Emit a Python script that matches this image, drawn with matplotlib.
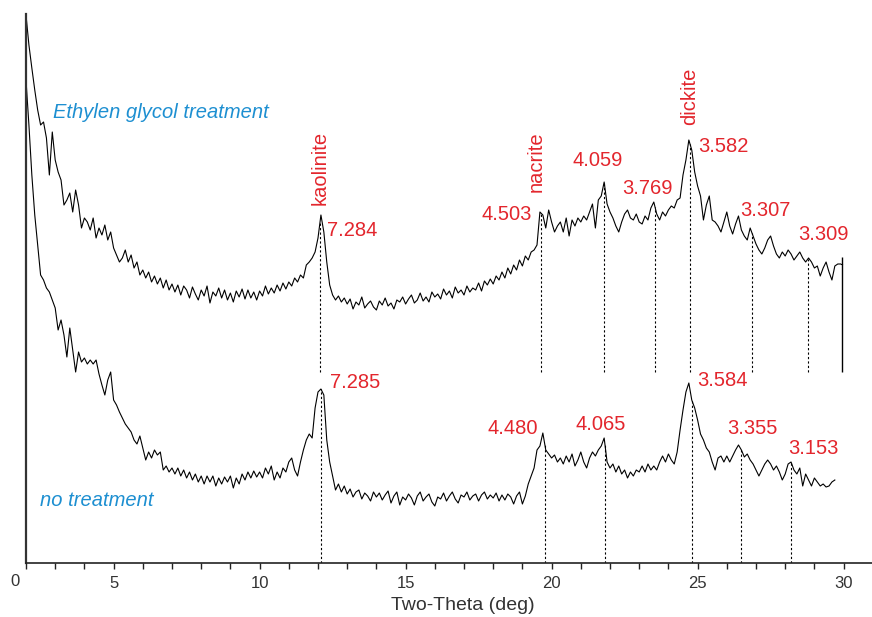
import numpy as np
import matplotlib
matplotlib.use("Agg")
import matplotlib.pyplot as plt

# ---------------- data ----------------
two_theta_eg = np.round(np.arange(2.0, 29.95, 0.1), 1)   # 2.0 .. 29.9
intensity_eg = [
    548, 518, 495, 473, 453, 438, 441, 425, 388, 431,
    403, 391, 383, 358, 363, 370, 351, 373, 358, 335,
    345, 341, 333, 345, 325, 335, 328, 338, 323, 331,
    315, 308, 301, 305, 313, 301, 308, 295, 301, 288,
    293, 285, 291, 281, 287, 279, 285, 275, 283, 273,
    279, 271, 278, 268, 277, 273, 265, 276, 269, 263,
    273, 267, 277, 260, 271, 267, 275, 265, 273, 263,
    270, 261, 272, 266, 274, 264, 273, 265, 271, 263,
    272, 267, 277, 269, 275, 270, 278, 272, 280, 274,
    281, 277, 285, 281, 288, 285, 298, 301, 305, 311,
    325, 348, 331, 301, 278, 268, 263, 267, 261, 265,
    259, 264, 254, 261, 258, 266, 255, 259, 262, 256,
    253, 262, 258, 265, 257, 260, 254, 263, 261, 266,
    259, 264, 268, 260, 263, 270, 262, 266, 261, 271,
    266, 269, 264, 274, 268, 272, 265, 276, 270, 273,
    268, 277, 271, 275, 273, 280, 272, 282, 278, 284,
    279, 287, 283, 291, 285, 295, 289, 298, 293, 303,
    297, 307, 303, 311, 313, 318, 351, 348, 335, 353,
    341, 331, 337, 341, 331, 345, 327, 343, 337, 345,
    341, 347, 343, 351, 359, 335, 363, 367, 381, 359,
    351, 345, 337, 331, 341, 349, 353, 345, 343, 349,
    341, 339, 347, 343, 355, 361, 349, 343, 351, 347,
    353, 357, 355, 363, 365, 388, 403, 423, 413, 391,
    377, 367, 343, 358, 367, 343, 341, 337, 331, 341,
    351, 337, 329, 339, 347, 333, 327, 323, 335, 327,
    319, 313, 309, 315, 323, 327, 317, 309, 305, 311,
    307, 313, 309, 303, 307, 311, 305, 301, 305, 301,
    295, 297, 287, 295, 301, 291, 283, 297, 299, 299,
]

two_theta_nt = np.round(np.arange(2.0, 29.75, 0.1), 1)   # 2.0 .. 29.7
intensity_nt = [
    483, 438, 388, 348, 318, 288, 283, 275, 271, 263,
    255, 233, 243, 228, 206, 235, 213, 191, 211, 201,
    205, 199, 203, 199, 203, 189, 178, 168, 183, 191,
    163, 158, 151, 145, 139, 135, 131, 123, 119, 127,
    115, 103, 111, 105, 113, 108, 111, 93, 97, 91,
    95, 89, 95, 87, 93, 85, 91, 83, 89, 81,
    87, 79, 87, 81, 87, 77, 85, 79, 86, 81,
    87, 75, 85, 79, 89, 83, 91, 85, 92, 86,
    91, 85, 95, 89, 97, 83, 91, 85, 95, 91,
    101, 105, 93, 87, 101, 113, 123, 129, 125, 155,
    171, 174, 168, 123, 101, 87, 73, 79, 71, 77,
    69, 74, 66, 71, 73, 64, 70, 67, 62, 71,
    66, 70, 63, 68, 72, 60, 67, 71, 58, 66,
    63, 69, 65, 58, 67, 71, 62, 66, 69, 61,
    57, 66, 64, 70, 62, 67, 71, 64, 60, 68,
    66, 71, 63, 67, 69, 62, 68, 71, 64, 68,
    65, 70, 62, 68, 63, 69, 66, 59, 67, 71,
    59, 67, 79, 87, 95, 113, 117, 130, 113, 109,
    105, 108, 101, 105, 99, 107, 101, 109, 97, 103,
    111, 101, 95, 105, 111, 107, 113, 117, 125, 101,
    95, 99, 91, 97, 89, 93, 85, 91, 87, 93,
    91, 97, 91, 99, 93, 97, 93, 101, 107, 101,
    109, 103, 99, 111, 133, 153, 171, 180, 163, 155,
    143, 129, 123, 115, 111, 101, 93, 105, 107, 101,
    107, 101, 107, 113, 118, 113, 106, 109, 103, 99,
    93, 87, 93, 99, 103, 99, 93, 97, 91, 83,
    89, 99, 101, 93, 89, 95, 77, 89, 83, 77,
    85, 81, 77, 79, 76, 77, 81, 83,
]

# peak markers (2-theta position) and d-spacing labels
peaks_eg_pos = [12.07, 19.64, 21.8, 23.54, 24.74, 26.86, 28.78]
peaks_eg_d = ["7.284", "4.503", "4.059", "3.769", "3.582", "3.307", "3.309"]
peaks_nt_pos = [12.1, 19.77, 21.83, 24.8, 26.49, 28.2]
peaks_nt_d = ["7.285", "4.480", "4.065", "3.584", "3.355", "3.153"]
minerals = ["kaolinite", "nacrite", "dickite"]
mineral_pos = [12.07, 19.47, 24.74]

# intensity scale bar at the end of the upper pattern
scale_bar_x = 29.93
scale_bar_range = (191, 306)
upper_marker_floor = 191

# ---------------- figure ----------------
W, H, DPI = 872, 617, 100
fig = plt.figure(figsize=(W / DPI, H / DPI), dpi=DPI)
ax = fig.add_axes([26 / W, 54 / H, 846 / W, 549 / H])

RED = "#e3262d"
BLUE = "#1d8fd1"
FONT = "Liberation Sans"

ax.plot(two_theta_eg, intensity_eg, color="black", lw=0.8)
ax.plot(two_theta_nt, intensity_nt, color="black", lw=0.8)
ax.plot([two_theta_eg[-1], scale_bar_x], [intensity_eg[-1], intensity_eg[-1]], color="black", lw=0.8)
ax.vlines(scale_bar_x, *scale_bar_range, color="black", lw=1.0)

dots = (0, (2, 2))
for p in peaks_eg_pos:
    top = np.interp(p, two_theta_eg, intensity_eg)
    ax.vlines(p, upper_marker_floor, top, color="black", lw=0.8, linestyles=[dots])
for p in peaks_nt_pos:
    top = np.interp(p, two_theta_nt, intensity_nt)
    ax.vlines(p, 0, top, color="black", lw=0.8, linestyles=[dots])

fs = 14.5
txt = dict(color=RED, fontsize=fs, family=FONT)
# mineral names (rotated)
ax.text(mineral_pos[0], 358, minerals[0], rotation=90, ha="center", va="bottom", **txt)
ax.text(mineral_pos[1], 371, minerals[1], rotation=90, ha="center", va="bottom", **txt)
ax.text(mineral_pos[2], 438, minerals[2], rotation=90, ha="center", va="bottom", **txt)

# upper d-spacings
ax.text(12.31, 333, peaks_eg_d[0], ha="left", va="center", **txt)
ax.text(19.33, 348, peaks_eg_d[1], ha="right", va="center", **txt)
ax.text(21.59, 402, peaks_eg_d[2], ha="center", va="center", **txt)
ax.text(23.27, 375, peaks_eg_d[3], ha="center", va="center", **txt)
ax.text(25.01, 416, peaks_eg_d[4], ha="left", va="center", **txt)
ax.text(26.45, 353, peaks_eg_d[5], ha="left", va="center", **txt)
ax.text(28.44, 329, peaks_eg_d[6], ha="left", va="center", **txt)
# lower d-spacings
ax.text(12.41, 181, peaks_nt_d[0], ha="left", va="center", **txt)
ax.text(19.53, 135, peaks_nt_d[1], ha="right", va="center", **txt)
ax.text(21.69, 138, peaks_nt_d[2], ha="center", va="center", **txt)
ax.text(24.98, 183, peaks_nt_d[3], ha="left", va="center", **txt)
ax.text(26.01, 135, peaks_nt_d[4], ha="left", va="center", **txt)
ax.text(28.10, 115, peaks_nt_d[5], ha="left", va="center", **txt)

# series labels
ax.text(2.92, 450, "Ethylen glycol treatment", color=BLUE, fontsize=14.5, style="italic",
        family=FONT, ha="left", va="center")
ax.text(2.48, 63, "no treatment", color=BLUE, fontsize=14.5, style="italic",
        family=FONT, ha="left", va="center")

# axes
ax.set_xlim(2.0, 2.0 + 846 / 29.2)
ax.set_ylim(0, 549)
ax.spines["top"].set_visible(False)
ax.spines["right"].set_visible(False)
ax.spines["left"].set_linewidth(1.6)
ax.spines["left"].set_color("#333333")
ax.spines["bottom"].set_linewidth(1.2)
ax.spines["bottom"].set_color("#222222")
ax.set_yticks([])
major = [5, 10, 15, 20, 25, 30]
ax.set_xticks(major)
ax.set_xticklabels([str(m) for m in major], family=FONT, fontsize=12, color="#333333")
ax.set_xticks(list(range(2, 31)), minor=True)
ax.tick_params(axis="x", which="both", direction="out", length=4, width=1.0, pad=5, color="#222222")
ax.annotate("0", xy=(2.0, 0), xycoords="data", xytext=(-8, -8), textcoords="offset points",
            ha="center", va="top", family=FONT, fontsize=12, color="#333333", annotation_clip=False)
ax.set_xlabel("Two-Theta (deg)", family=FONT, fontsize=14, color="#333333")
ax.xaxis.set_label_coords((463 - 26) / 846, -(606 - 563) / 549)
ax.xaxis.label.set_va("center")

fig.savefig("out.png", dpi=DPI)
